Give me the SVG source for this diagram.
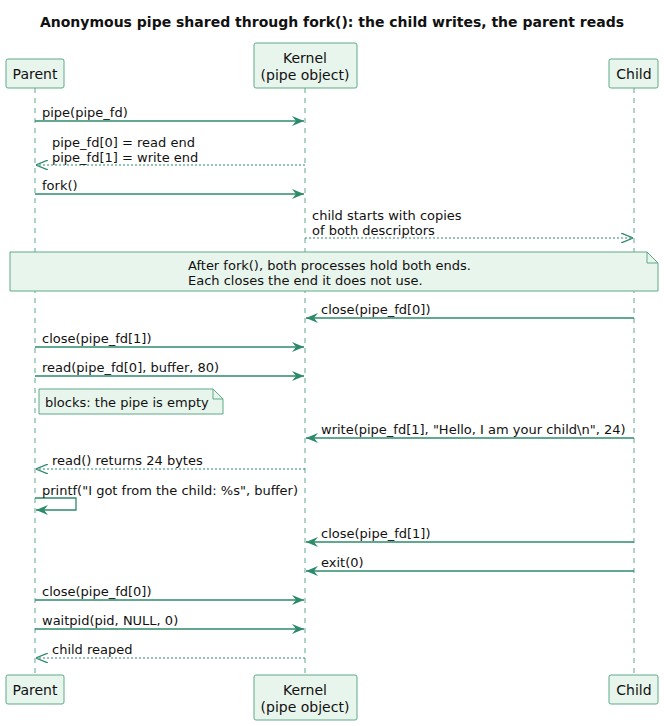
<svg xmlns="http://www.w3.org/2000/svg" width="664" height="726" viewBox="0 0 664 726">
<style>
text{font-family:"DejaVu Sans",sans-serif;font-size:13px;fill:#111}
.t{font-weight:bold;font-size:14px}
.p{font-size:14px}
.box{fill:#e8f5ec;stroke:#5fa98a;stroke-width:1}
.life{stroke:#5fa98a;stroke-width:1;stroke-dasharray:5,5}
.m{stroke:#2e8b6a;stroke-width:1.3;fill:none}
.r{stroke:#2e8b6a;stroke-width:1;fill:none;stroke-dasharray:2,2}
.c{text-anchor:middle}
</style>
<defs>
<marker id="a" viewBox="0 0 12 10" refX="12" refY="5" markerWidth="12" markerHeight="10" markerUnits="userSpaceOnUse" orient="auto"><path d="M0,0 L12,5 L0,10 L4,5 Z" fill="#2e8b6a"/></marker>
<marker id="o" viewBox="0 0 12 10" refX="12" refY="5" markerWidth="12" markerHeight="10" markerUnits="userSpaceOnUse" orient="auto"><path d="M0,0 L12,5 L0,10" fill="none" stroke="#2e8b6a" stroke-width="1.3"/></marker>
</defs>
<text class="t c" x="332" y="27">Anonymous pipe shared through fork(): the child writes, the parent reads</text>
<g id="lifelines">
<line class="life" x1="35" y1="88" x2="35" y2="674"/>
<line class="life" x1="305" y1="88" x2="305" y2="674"/>
<line class="life" x1="634" y1="88" x2="634" y2="674"/>
</g>
<g id="parent"><rect class="box" x="6" y="59" width="58" height="29" rx="2"/><text class="c p" x="35" y="79">Parent</text>
<rect class="box" x="6" y="675" width="58" height="29" rx="2"/><text class="c p" x="35" y="695">Parent</text></g>
<g id="kernel"><rect class="box" x="254" y="43" width="103" height="45" rx="2"/><text class="c p" x="305" y="63">Kernel</text><text class="c p" x="305" y="80">(pipe object)</text>
<rect class="box" x="254" y="675" width="103" height="45" rx="2"/><text class="c p" x="305" y="695">Kernel</text><text class="c p" x="305" y="712">(pipe object)</text></g>
<g id="child"><rect class="box" x="609" y="59" width="49" height="29" rx="2"/><text class="c p" x="634" y="79">Child</text>
<rect class="box" x="609" y="675" width="49" height="29" rx="2"/><text class="c p" x="634" y="695">Child</text></g>
<g id="note1"><path class="box" d="M10,252 H647 L658,263 V291 H10 Z"/><path d="M647,252 V263 H658" fill="none" stroke="#5fa98a"/>
<text x="188" y="270">After fork(), both processes hold both ends.</text><text x="188" y="285">Each closes the end it does not use.</text></g>
<g id="note2"><path class="box" d="M39,389 H213 L223,399 V414 H39 Z"/><path d="M213,389 V399 H223" fill="none" stroke="#5fa98a"/>
<text x="45" y="407">blocks: the pipe is empty</text></g>
<g id="connectors">
<line class="m" x1="35" y1="121" x2="304" y2="121" marker-end="url(#a)"/><text x="42" y="117">pipe(pipe_fd)</text>
<line class="r" x1="305" y1="165" x2="36" y2="165" marker-end="url(#o)"/><text x="52" y="147">pipe_fd[0] = read end</text><text x="52" y="162">pipe_fd[1] = write end</text>
<line class="m" x1="35" y1="194" x2="304" y2="194" marker-end="url(#a)"/><text x="42" y="190">fork()</text>
<line class="r" x1="305" y1="238" x2="633" y2="238" marker-end="url(#o)"/><text x="312" y="220">child starts with copies</text><text x="312" y="235">of both descriptors</text>
<line class="m" x1="634" y1="318" x2="306" y2="318" marker-end="url(#a)"/><text x="321" y="314">close(pipe_fd[0])</text>
<line class="m" x1="35" y1="347" x2="304" y2="347" marker-end="url(#a)"/><text x="42" y="343">close(pipe_fd[1])</text>
<line class="m" x1="35" y1="376" x2="304" y2="376" marker-end="url(#a)"/><text x="42" y="372">read(pipe_fd[0], buffer, 80)</text>
<line class="m" x1="634" y1="438" x2="306" y2="438" marker-end="url(#a)"/><text x="321" y="434">write(pipe_fd[1], "Hello, I am your child\n", 24)</text>
<line class="r" x1="305" y1="469" x2="36" y2="469" marker-end="url(#o)"/><text x="52" y="465">read() returns 24 bytes</text>
<path class="m" d="M35,498 H76 V510 H36" marker-end="url(#a)"/><text x="42" y="495">printf("I got from the child: %s", buffer)</text>
<line class="m" x1="634" y1="542" x2="306" y2="542" marker-end="url(#a)"/><text x="321" y="538">close(pipe_fd[1])</text>
<line class="m" x1="634" y1="571" x2="306" y2="571" marker-end="url(#a)"/><text x="321" y="567">exit(0)</text>
<line class="m" x1="35" y1="600" x2="304" y2="600" marker-end="url(#a)"/><text x="42" y="596">close(pipe_fd[0])</text>
<line class="m" x1="35" y1="629" x2="304" y2="629" marker-end="url(#a)"/><text x="42" y="625">waitpid(pid, NULL, 0)</text>
<line class="r" x1="305" y1="658" x2="36" y2="658" marker-end="url(#o)"/><text x="52" y="654">child reaped</text>
</g>
</svg>
